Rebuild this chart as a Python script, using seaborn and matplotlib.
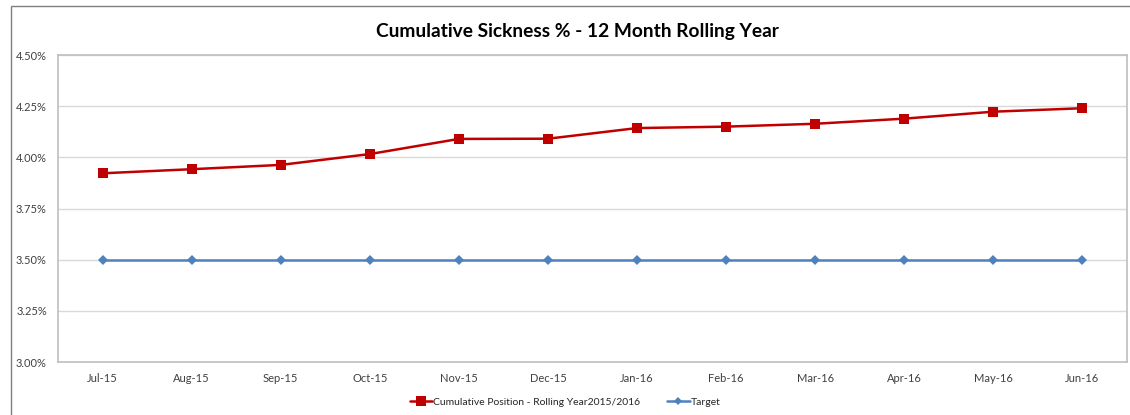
import pandas as pd
import seaborn as sns
from matplotlib import pyplot as plt
from matplotlib.patches import Rectangle
from matplotlib.ticker import FuncFormatter

MONTHS = ['Jul-15', 'Aug-15', 'Sep-15', 'Oct-15', 'Nov-15', 'Dec-15',
          'Jan-16', 'Feb-16', 'Mar-16', 'Apr-16', 'May-16', 'Jun-16']
CUMULATIVE = [3.922, 3.942, 3.963, 4.016, 4.090, 4.091,
              4.143, 4.150, 4.164, 4.189, 4.223, 4.240]
TARGET = [3.50] * 12
Y_TICKS = [3.00, 3.25, 3.50, 3.75, 4.00, 4.25, 4.50]

CUM_LABEL = 'Cumulative Position - Rolling Year2015/2016'
TARGET_LABEL = 'Target'


def main():
    sns.set_style('white')
    plt.rcParams['font.family'] = ['Lato', 'DejaVu Sans']

    df = pd.DataFrame({
        'MONTH': MONTHS * 2,
        'VALUE': CUMULATIVE + TARGET,
        'SERIES': [CUM_LABEL] * 12 + [TARGET_LABEL] * 12,
    })

    fig = plt.figure(figsize=(11.3, 4.15), dpi=100)
    ax = fig.add_axes([58 / 1130, 1 - 362 / 415, (1127 - 58) / 1130, (362 - 55) / 415])

    # outer chart border
    fig.patches.append(Rectangle((11 / 1130, -0.1), 1.2, 1 - 6 / 415 + 0.1,
                                 transform=fig.transFigure, fill=False,
                                 edgecolor='#7f7f7f', linewidth=1.0))

    sns.lineplot(data=df, x='MONTH', y='VALUE', hue='SERIES', style='SERIES',
                 palette={CUM_LABEL: '#C00000', TARGET_LABEL: '#4F81BD'},
                 markers={CUM_LABEL: 's', TARGET_LABEL: 'D'},
                 dashes=False, sort=False, ax=ax, linewidth=1.8,
                 markeredgewidth=0)
    ax.lines[0].set_markersize(7.5)
    ax.lines[1].set_markersize(4.8)

    ax.set_xlim(-0.5, 11.5)
    ax.set_ylim(3.0, 4.5)
    ax.set_yticks(Y_TICKS)
    ax.yaxis.set_major_formatter(FuncFormatter(lambda v, p: f'{v:.2f}%'))
    ax.grid(axis='y', color='#D9D9D9', linewidth=1.0)
    ax.set_axisbelow(True)
    for s in ax.spines.values():
        s.set_color('#BFBFBF')
        s.set_linewidth(1.2)
    ax.tick_params(axis='both', labelsize=8, colors='#404040', length=0, pad=8)
    ax.set_xlabel('')
    ax.set_ylabel('')

    fig.text(577 / 1130, 1 - 31 / 415, 'Cumulative Sickness % - 12 Month Rolling Year',
             ha='center', va='center', fontsize=13.8, fontweight='bold', color='black')

    handles, labels = ax.get_legend_handles_labels()
    for h in handles:
        h.set_linewidth(1.8)
    handles[0].set_markersize(6.5)
    handles[1].set_markersize(4.5)
    ax.legend(handles, labels, loc='center', bbox_to_anchor=(0.5, 1 - 402 / 415),
              bbox_transform=fig.transFigure, ncol=2, frameon=False, fontsize=7.5,
              handlelength=2.2, handletextpad=0.1, columnspacing=2.5)

    fig.savefig('out.png', dpi=100)


if __name__ == '__main__':
    main()
